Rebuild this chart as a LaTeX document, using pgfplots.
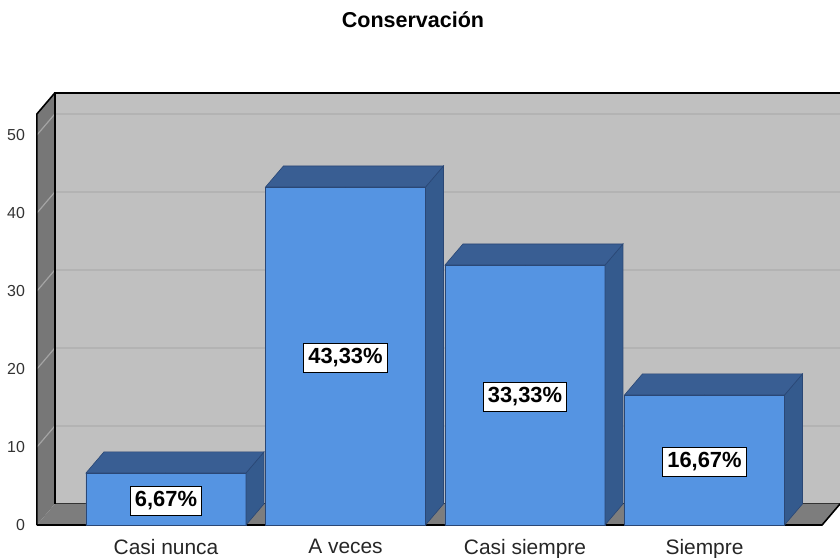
\documentclass[border=0pt]{standalone}
\usepackage{fontspec}
\setmainfont{Liberation Sans}
\usepackage{pgfplots}
\usepackage{pgfplotstable}
\pgfplotsset{compat=1.18}
\definecolor{backwall}{HTML}{C0C0C0}
\definecolor{sidewall}{HTML}{777777}
\definecolor{floorc}{HTML}{7D7D7D}
\definecolor{gridc}{HTML}{B3B3B3}
\definecolor{gridl}{HTML}{A4A4A4}
\definecolor{barfront}{HTML}{5594E2}
\definecolor{bartop}{HTML}{395E93}
\definecolor{barside}{HTML}{345A8D}
\definecolor{baredge}{HTML}{2A4775}

\pgfplotstableread{
i v lab
0 6.67 {6,67\%}
1 43.33 {43,33\%}
2 33.33 {33,33\%}
3 16.67 {16,67\%}
}\datatable

\def\Lx{-0.719}
\def\Rx{3.655}
\def\Ty{52.7}
\def\dx{0.1}
\def\dy{2.7}

\begin{document}
\begin{tikzpicture}
\begin{axis}[
  x=89.75bp, y=3.9bp,
  xmin=-0.719, xmax=3.655, ymin=0, ymax=52.7,
  clip=false,
  axis line style={draw=none},
  major tick length=0pt,
  xtick={0,1,2,3},
  xticklabels={Casi nunca, A veces, Casi siempre, Siempre},
  ytick={0,10,...,50},
  /pgf/number format/assume math mode=true,
  yticklabel style={font=\fontsize{8}{9}\selectfont, text=black!80, xshift=-2.5bp},
  xticklabel style={font=\fontsize{10.5}{12}\selectfont, text=black!85, yshift=-3.5bp},
]
% bounding box corners
\coordinate (bbll) at (axis cs:-0.92479,-4.2308);
\coordinate (bbur) at (axis cs:3.75487,67.3077);
% walls
\fill[backwall] (axis cs:\Lx+\dx,\dy) rectangle (axis cs:\Rx+\dx,\Ty+\dy);
\fill[sidewall] (axis cs:\Lx,0) -- (axis cs:\Lx,\Ty) -- (axis cs:\Lx+\dx,\Ty+\dy) -- (axis cs:\Lx+\dx,\dy) -- cycle;
\pgfplotsinvokeforeach{10,20,30,40,50}{
  \draw[gridc, line width=0.6bp] (axis cs:\Lx+\dx,#1+\dy) -- (axis cs:\Rx+\dx,#1+\dy);
  \draw[gridl, line width=0.6bp] (axis cs:\Lx,#1) -- (axis cs:\Lx+\dx,#1+\dy);
}
\fill[floorc] (axis cs:\Lx,0) -- (axis cs:\Rx,0) -- (axis cs:\Rx+\dx,\dy) -- (axis cs:\Lx+\dx,\dy) -- cycle;
\draw[black!80, line width=0.5bp] (axis cs:\Lx+\dx,\dy) -- (axis cs:\Rx+\dx,\dy);
\draw[black, line width=0.8bp] (axis cs:\Lx+\dx,\dy) -- (axis cs:\Lx+\dx,\Ty+\dy) -- (axis cs:\Rx+\dx+0.05,\Ty+\dy);
\draw[black, line width=0.8bp] (axis cs:\Lx,0) -- (axis cs:\Lx,\Ty) -- (axis cs:\Lx+\dx,\Ty+\dy);
\draw[black, line width=0.8bp] (axis cs:\Lx,0) -- (axis cs:\Rx,0) -- (axis cs:\Rx+\dx,\dy);
% title
\node[font=\bfseries\fontsize{10.8}{12}\selectfont] at (axis cs:1.376,64.74) {Conservación};
% front faces with labels
\addplot[ybar, bar width=0.8914, fill=barfront, draw=baredge, line width=0.3bp,
  point meta=explicit symbolic,
  visualization depends on={\thisrow{v} \as \h},
  nodes near coords,
  every node near coord/.style={anchor=center, yshift={-1.95bp*\h-1bp}, fill=white, draw=black,
     line width=0.5bp, text=black, font=\bfseries\fontsize{11}{13}\selectfont,
     inner xsep=2.2bp, inner ysep=2.6bp},
] table[x=i, y=v, meta=lab] {\datatable};
% top and side faces
\addplot[scatter, only marks, mark=*, mark size=0pt,
  visualization depends on={\thisrow{v} \as \h},
  scatter/@pre marker code/.code={
    \pgfmathsetmacro\hb{\dy-\h}
    \pgfmathsetmacro\hf{-\h}
    \path[fill=barside, draw=baredge, line width=0.3bp, fill opacity=1, draw opacity=1]
      (axis direction cs:0.4457,0) -- (axis direction cs:0.5457,\dy) -- (axis direction cs:0.5457,\hb) -- (axis direction cs:0.4457,\hf) -- cycle;
    \path[fill=bartop, draw=baredge, line width=0.3bp, fill opacity=1, draw opacity=1]
      (axis direction cs:-0.4457,0) -- (axis direction cs:0.4457,0) -- (axis direction cs:0.5457,\dy) -- (axis direction cs:-0.3457,\dy) -- cycle;
  },
  scatter/@post marker code/.code={},
] table[x=i, y=v] {\datatable};
\end{axis}
\pgfresetboundingbox
\useasboundingbox (bbll) rectangle (bbur);
\end{tikzpicture}
\end{document}
